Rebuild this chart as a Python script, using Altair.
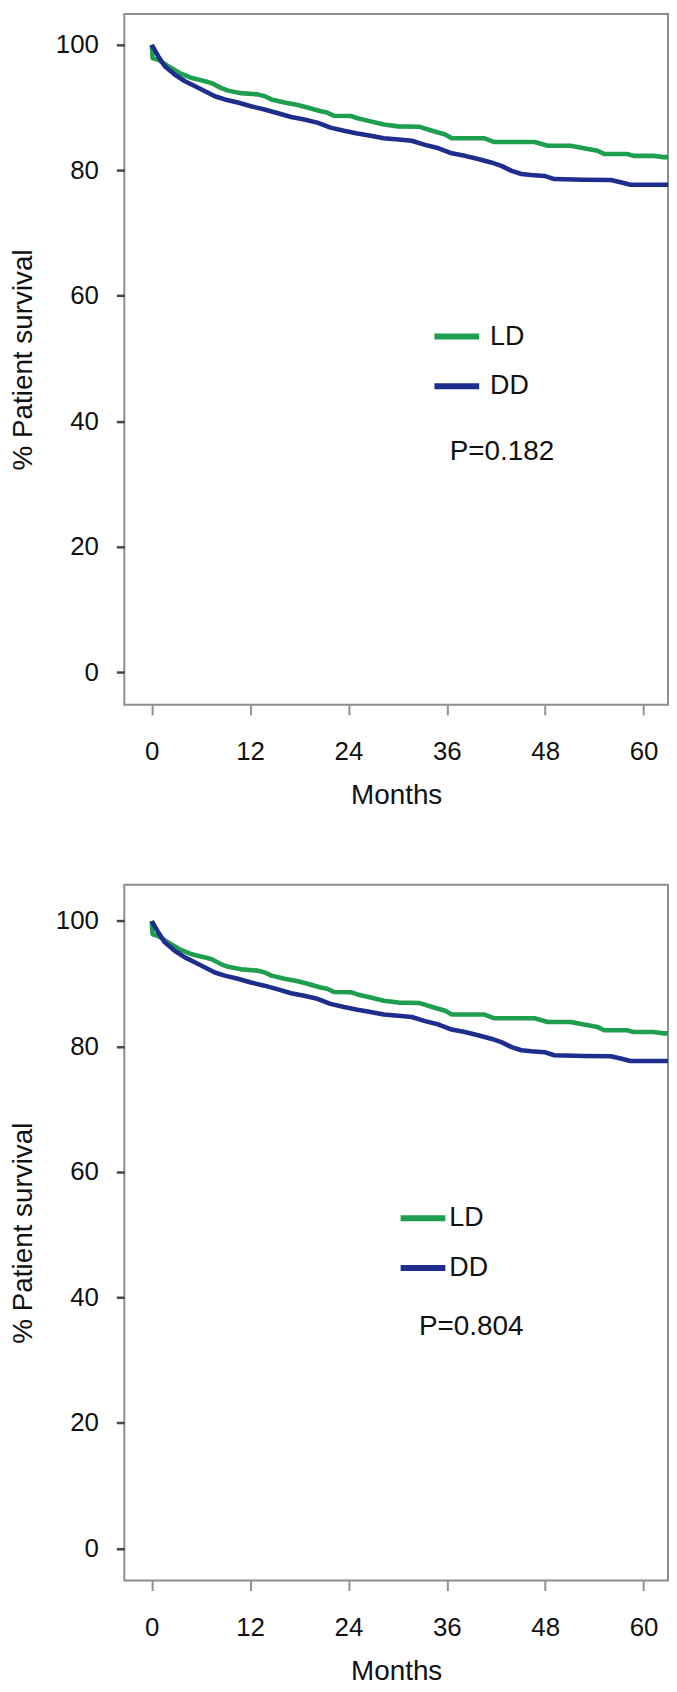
import altair as alt
import pandas as pd

# ---- data (Kaplan-Meier curves, months vs % survival) ----
ld_months = [0, 0.1, 0.8, 2.0, 3.4, 4.9, 6.5, 7.3, 8.5, 9.3,
             10.9, 12.9, 13.8, 14.6, 16.2, 17.8, 19.0, 20.6, 21.4, 22.2,
             24.3, 25.1, 26.7, 28.3, 30.1, 32.6, 34.2, 35.8, 36.6, 40.6,
             41.8, 46.7, 48.3, 51.1, 52.7, 54.4, 55.2, 58.0, 58.8, 61.2,
             62.4, 63.7]
ld_surv = [100, 97.9, 97.6, 96.6, 95.5, 94.7, 94.2, 93.9, 93.1, 92.7,
           92.3, 92.1, 91.8, 91.3, 90.8, 90.4, 90.0, 89.4, 89.2, 88.7,
           88.65, 88.3, 87.8, 87.3, 87.0, 86.95, 86.3, 85.7, 85.1, 85.1,
           84.5, 84.5, 83.9, 83.9, 83.5, 83.1, 82.6, 82.6, 82.3, 82.3,
           82.1, 82.1]
dd_months = [0, 0.8, 1.6, 2.8, 4.05, 5.3, 6.5, 7.7, 8.9, 10.5,
             12.1, 13.75, 15.4, 17.0, 18.6, 20.2, 21.8, 23.45, 25.1, 26.7,
             28.3, 30.1, 31.7, 33.35, 35.0, 36.6, 38.2, 39.8, 41.4, 42.65,
             43.9, 45.1, 46.3, 47.9, 49.1, 52.7, 56.0, 57.2, 58.4, 63.7]
dd_surv = [100, 98.15, 96.6, 95.25, 94.2, 93.4, 92.6, 91.8, 91.3, 90.8,
           90.2, 89.7, 89.1, 88.5, 88.1, 87.6, 86.8, 86.3, 85.85, 85.5,
           85.1, 84.9, 84.7, 84.05, 83.5, 82.7, 82.3, 81.8, 81.25, 80.7,
           79.9, 79.4, 79.25, 79.1, 78.6, 78.5, 78.45, 78.1, 77.7, 77.7]

groups = ["LD", "DD"]
group_colors = ["#1f9e50", "#1f2d8c"]
p_labels = ["P=0.182", "P=0.804"]
x_tick_values = [0, 12, 24, 36, 48, 60]
y_tick_values = [0, 20, 40, 60, 80, 100]
x_title = "Months"
y_title = "% Patient survival"

FONT = "Liberation Sans"
TXT = "#111111"

curve = pd.concat([
    pd.DataFrame({"month": ld_months, "surv": ld_surv, "group": groups[0],
                  "idx": range(len(ld_months))}),
    pd.DataFrame({"month": dd_months, "surv": dd_surv, "group": groups[1],
                  "idx": range(len(dd_months))}),
], ignore_index=True)


def panel(p_label, height, y_domain, legend_x, legend_y, label_offset,
          p_x, p_y, x_title_pad):
    x = alt.X("month:Q",
              scale=alt.Scale(domain=[-3.35, 62.98], nice=False, zero=False),
              axis=alt.Axis(values=x_tick_values, title=x_title, format="d",
                            domain=False, grid=False,
                            tickSize=10, tickWidth=2, tickColor="#8e9292",
                            labelPadding=24, labelFontSize=26, labelFont=FONT,
                            labelColor=TXT, labelFlush=False, labelOverlap=False,
                            titleFont=FONT, titleFontSize=28,
                            titleFontWeight="normal", titleColor=TXT,
                            titlePadding=x_title_pad))
    y = alt.Y("surv:Q",
              scale=alt.Scale(domain=y_domain, nice=False, zero=False),
              axis=alt.Axis(values=y_tick_values, title=y_title, format="d",
                            domain=False, grid=False,
                            tickSize=8, tickWidth=2.5, tickColor="#454848",
                            labelPadding=18, labelFontSize=26, labelFont=FONT,
                            labelColor=TXT, labelOverlap=False,
                            titleFont=FONT, titleFontSize=28,
                            titleFontWeight="normal", titleColor=TXT,
                            titlePadding=18))
    color = alt.Color("group:N",
                      scale=alt.Scale(domain=groups, range=group_colors),
                      legend=alt.Legend(title=None, orient="none",
                                        legendX=legend_x, legendY=legend_y,
                                        direction="vertical",
                                        symbolType="stroke", symbolSize=2025,
                                        symbolStrokeWidth=6,
                                        labelFont=FONT, labelFontSize=27,
                                        labelColor=TXT,
                                        labelOffset=label_offset,
                                        rowPadding=11, padding=0))
    lines = alt.Chart(curve).mark_line(
        strokeWidth=4.6, clip=True, strokeJoin="round"
    ).encode(x=x, y=y, color=color, order="idx:Q")
    ptext = alt.Chart(pd.DataFrame({"p": [p_label]})).mark_text(
        font=FONT, fontSize=28, color=TXT, align="center", baseline="middle"
    ).encode(x=alt.value(p_x), y=alt.value(p_y), text="p:N")
    return alt.layer(lines, ptext).properties(width=547, height=height)


top = panel(p_labels[0], 695, [-5.23, 104.91], 309, 299, 8, 380, 441.0, 17)
bottom = panel(p_labels[1], 700, [-5.12, 105.78], 275, 310, 1, 349, 445.3, 18)

chart = alt.vconcat(top, bottom, spacing=74).resolve_scale(
    x="independent", y="independent", color="independent"
).resolve_legend(color="independent").properties(
    padding={"left": 0, "top": 0, "right": 0, "bottom": -6},
    background="white",
).configure_view(stroke="#8b8f8f", strokeWidth=2)

chart.save("out.html", embed_options={"renderer": "svg", "actions": False})
